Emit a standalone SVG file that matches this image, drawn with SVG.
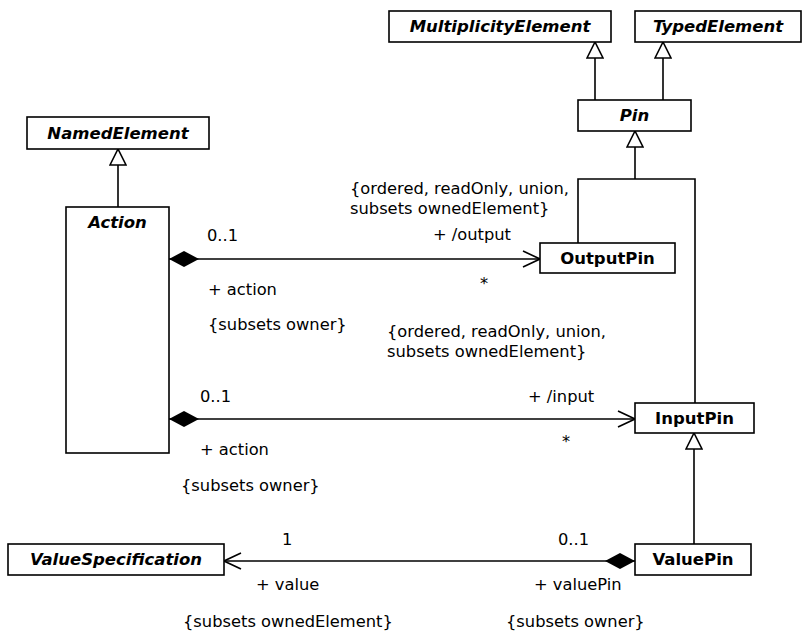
<svg xmlns="http://www.w3.org/2000/svg" width="802" height="633" viewBox="0 0 802 633">
<style>
.box{fill:#fff;stroke:#000;stroke-width:1.6}
.name{font-family:"DejaVu Sans",Verdana,sans-serif;font-size:16.5px;font-weight:bold;text-anchor:middle;fill:#000}
.abs{font-style:italic}
.lbl{font-family:"DejaVu Sans",Verdana,sans-serif;font-size:16.3px;fill:#000}
.ln{fill:none;stroke:#000;stroke-width:1.6}
</style>
<defs>
<marker id="diamond" markerUnits="userSpaceOnUse" viewBox="0 0 30 16" refX="0" refY="8" markerWidth="30" markerHeight="16" orient="auto">
<path d="M0,8 L15,0 L30,8 L15,16 Z" fill="#000"/>
</marker>
<marker id="open" markerUnits="userSpaceOnUse" viewBox="-1 -1 19 18" refX="17" refY="8" markerWidth="19" markerHeight="18" orient="auto">
<path d="M0,0 L17,8 L0,16" fill="none" stroke="#000" stroke-width="1.6"/>
</marker>
<marker id="tri" markerUnits="userSpaceOnUse" viewBox="-1 -1 18 18" refX="16" refY="8" markerWidth="18" markerHeight="18" orient="auto">
<path d="M0,0 L16,8 L0,16 Z" fill="#fff" stroke="#000" stroke-width="1.6"/>
</marker>
</defs>
<rect width="802" height="633" fill="#fff"/>

<g id="connectors">
<path class="ln" d="M595,100 V42" marker-end="url(#tri)"/>
<path class="ln" d="M663,100 V42" marker-end="url(#tri)"/>
<path class="ln" d="M118,207 V149" marker-end="url(#tri)"/>
<path class="ln" d="M578,243 V179 H695 V403"/>
<path class="ln" d="M635,179 V131" marker-end="url(#tri)"/>
<path class="ln" d="M694,544 V433" marker-end="url(#tri)"/>
<path class="ln" d="M169,259 H540" marker-start="url(#diamond)" marker-end="url(#open)"/>
<path class="ln" d="M169,419 H635" marker-start="url(#diamond)" marker-end="url(#open)"/>
<path class="ln" d="M635,561 H224" marker-start="url(#diamond)" marker-end="url(#open)"/>
</g>

<g id="labels">
<text class="lbl" x="350" y="194">{ordered, readOnly, union,</text>
<text class="lbl" x="350" y="214">subsets ownedElement}</text>
<text class="lbl" x="207" y="241">0..1</text>
<text class="lbl" x="433" y="240">+ /output</text>
<text class="lbl" x="480" y="289">*</text>
<text class="lbl" x="208" y="295">+ action</text>
<text class="lbl" x="208" y="330">{subsets owner}</text>
<text class="lbl" x="387" y="337">{ordered, readOnly, union,</text>
<text class="lbl" x="387" y="357">subsets ownedElement}</text>
<text class="lbl" x="200" y="402">0..1</text>
<text class="lbl" x="528" y="402">+ /input</text>
<text class="lbl" x="562" y="447">*</text>
<text class="lbl" x="200" y="455">+ action</text>
<text class="lbl" x="181" y="491">{subsets owner}</text>
<text class="lbl" x="282" y="545">1</text>
<text class="lbl" x="558" y="545">0..1</text>
<text class="lbl" x="256" y="590">+ value</text>
<text class="lbl" x="534" y="590">+ valuePin</text>
<text class="lbl" x="183" y="627">{subsets ownedElement}</text>
<text class="lbl" x="506" y="627">{subsets owner}</text>
</g>

<g id="MultiplicityElement">
<rect class="box" x="389" y="11" width="222" height="31"/>
<text class="name abs" x="500" y="32">MultiplicityElement</text>
</g>
<g id="TypedElement">
<rect class="box" x="635" y="11" width="166" height="31"/>
<text class="name abs" x="718" y="32">TypedElement</text>
</g>
<g id="Pin">
<rect class="box" x="578" y="100" width="113" height="31"/>
<text class="name abs" x="634.5" y="121">Pin</text>
</g>
<g id="NamedElement">
<rect class="box" x="27" y="117" width="182" height="32"/>
<text class="name abs" x="118" y="139">NamedElement</text>
</g>
<g id="Action">
<rect class="box" x="66" y="207" width="103" height="246"/>
<text class="name abs" x="117.5" y="228">Action</text>
</g>
<g id="OutputPin">
<rect class="box" x="540" y="243" width="135" height="30"/>
<text class="name" x="607.5" y="264">OutputPin</text>
</g>
<g id="InputPin">
<rect class="box" x="635" y="403" width="119" height="30"/>
<text class="name" x="694.5" y="424">InputPin</text>
</g>
<g id="ValuePin">
<rect class="box" x="635" y="544" width="116" height="31"/>
<text class="name" x="693" y="565">ValuePin</text>
</g>
<g id="ValueSpecification">
<rect class="box" x="8" y="544" width="216" height="31"/>
<text class="name abs" x="116" y="565">ValueSpecification</text>
</g>
</svg>
